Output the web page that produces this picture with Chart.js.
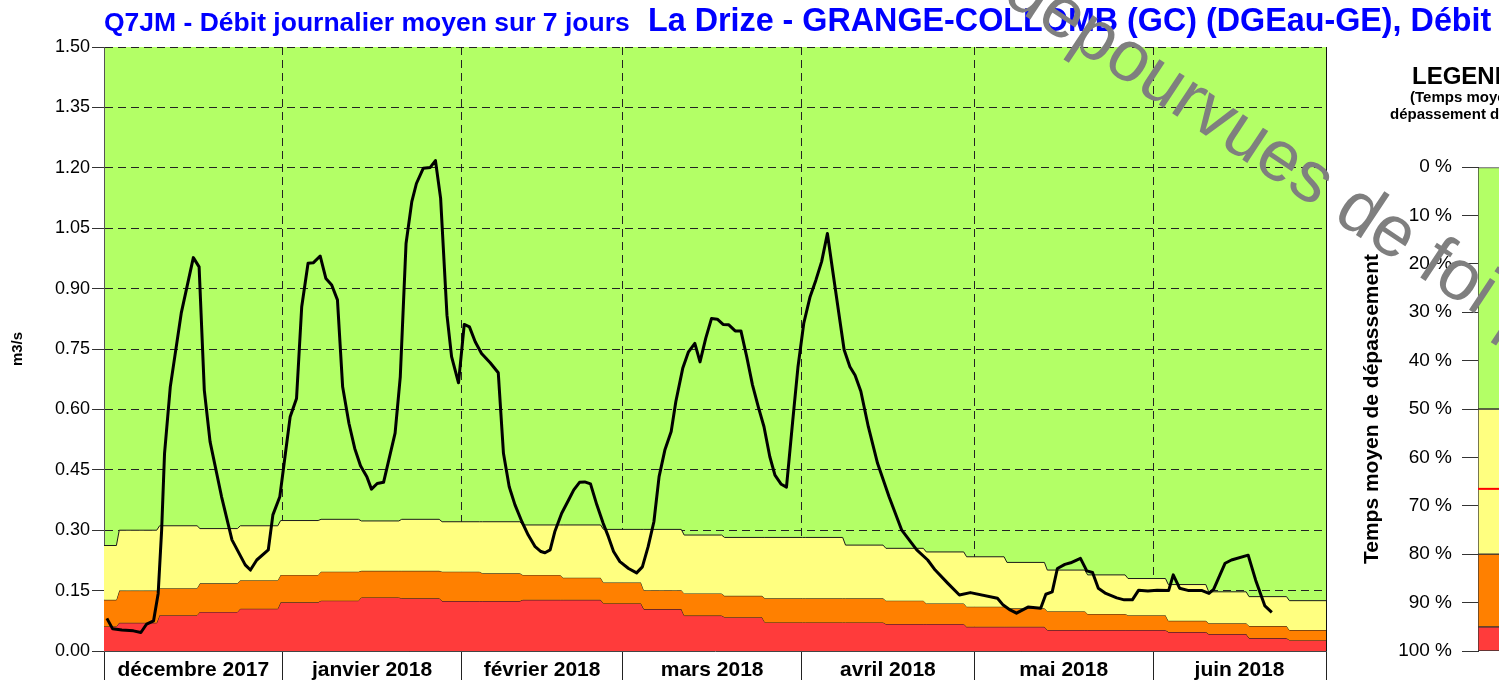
<!DOCTYPE html>
<html>
<head>
<meta charset="utf-8">
<script src="https://cdn.jsdelivr.net/npm/chart.js@4.4.1/dist/chart.umd.min.js"></script>
<style>
  html, body { margin: 0; padding: 0; background: #fff; overflow: hidden; }
  #cadre { position: relative; width: 1499px; height: 680px; }
  #cadre canvas { position: absolute; left: 0; top: 0; }
</style>
</head>
<body>
<div id="cadre">
  <canvas id="chartDebit" width="1499" height="680"></canvas>
  <canvas id="chartLegende" width="1499" height="680"></canvas>
</div>
<script>
// ------------- DONNEES
// axe X en jours depuis le 01.12.2017
const moisLabels = ['décembre 2017', 'janvier 2018', 'février 2018', 'mars 2018', 'avril 2018', 'mai 2018', 'juin 2018'];
const moisDebut = [0, 31, 62, 90, 121, 151, 182, 212];
const graduationsDebit = [0.00, 0.15, 0.30, 0.45, 0.60, 0.75, 0.90, 1.05, 1.20, 1.35, 1.50];

// Q7JM (m3/s)
const q7jmJours = [
  0.5, 1.5, 3.1, 5.1, 6.4, 7.4, 8.6, 9.4, 10.0, 10.5,
  11.5, 13.4, 15.5, 16.5, 17.4, 18.4, 20.4, 22.2, 24.5, 25.4,
  26.5, 28.5, 29.3, 30.5, 32.3, 33.4, 34.3, 35.4, 36.3, 37.5,
  38.5, 39.5, 40.5, 41.4, 42.5, 43.5, 44.5, 45.6, 46.4, 47.4,
  48.5, 50.5, 51.4, 52.4, 53.4, 54.2, 55.4, 56.6, 57.5, 58.4,
  59.5, 60.3, 61.5, 62.5, 63.4, 64.4, 65.5, 67.0, 68.4, 69.3,
  70.3, 71.3, 72.5, 73.6, 74.8, 75.8, 76.5, 77.4, 78.2, 79.4,
  80.6, 81.5, 82.5, 83.4, 84.4, 85.5, 86.6, 87.5, 88.4, 89.5,
  91.0, 92.4, 93.4, 94.4, 95.4, 96.3, 97.3, 98.4, 99.2, 100.4,
  101.4, 102.5, 103.4, 104.4, 105.4, 106.4, 107.4, 108.4, 109.5, 110.5,
  111.5, 112.5, 113.5, 114.5, 115.5, 116.4, 117.5, 118.4, 119.5, 120.4,
  121.4, 122.5, 123.5, 124.5, 125.5, 126.4, 127.4, 128.4, 129.4, 130.3,
  131.3, 132.6, 134.2, 136.2, 138.4, 141.0, 142.9, 144.2, 146.4, 148.4,
  150.3, 155.0, 156.0, 157.2, 158.3, 160.3, 162.5, 163.4, 164.5, 165.4,
  166.7, 167.7, 169.4, 170.5, 171.5, 172.5, 173.8, 175.7, 177.0, 178.4,
  179.5, 181.1, 182.7, 184.7, 185.5, 186.6, 188.2, 190.5, 191.7, 192.5,
  194.5, 195.6, 198.5, 199.8, 201.4, 202.6
];
const q7jmDebit = [
  0.081, 0.055, 0.052, 0.050, 0.046, 0.067, 0.075, 0.143, 0.300, 0.490,
  0.656, 0.839, 0.977, 0.954, 0.648, 0.520, 0.383, 0.276, 0.214, 0.201,
  0.226, 0.251, 0.338, 0.383, 0.582, 0.627, 0.855, 0.963, 0.964, 0.981,
  0.925, 0.909, 0.872, 0.656, 0.565, 0.503, 0.460, 0.433, 0.402, 0.416,
  0.419, 0.541, 0.681, 1.012, 1.116, 1.161, 1.199, 1.201, 1.218, 1.124,
  0.834, 0.731, 0.666, 0.811, 0.805, 0.768, 0.739, 0.716, 0.691, 0.491,
  0.408, 0.363, 0.321, 0.288, 0.259, 0.247, 0.244, 0.251, 0.296, 0.342,
  0.375, 0.400, 0.419, 0.420, 0.415, 0.363, 0.317, 0.284, 0.247, 0.222,
  0.205, 0.194, 0.209, 0.259, 0.321, 0.433, 0.499, 0.545, 0.619, 0.702,
  0.743, 0.764, 0.718, 0.777, 0.826, 0.824, 0.811, 0.810, 0.795, 0.795,
  0.731, 0.661, 0.607, 0.557, 0.483, 0.437, 0.414, 0.407, 0.574, 0.706,
  0.814, 0.880, 0.921, 0.967, 1.037, 0.946, 0.847, 0.748, 0.706, 0.685,
  0.645, 0.557, 0.466, 0.383, 0.300, 0.251, 0.226, 0.201, 0.168, 0.139,
  0.145, 0.131, 0.114, 0.102, 0.094, 0.109, 0.106, 0.141, 0.147, 0.205,
  0.215, 0.219, 0.230, 0.199, 0.195, 0.156, 0.143, 0.132, 0.127, 0.127,
  0.151, 0.149, 0.151, 0.150, 0.189, 0.156, 0.150, 0.150, 0.143, 0.153,
  0.218, 0.226, 0.238, 0.176, 0.112, 0.096
];

// Seuils hebdomadaires (débits dépassés 50 %, 80 % et 95 % du temps)
const semaineDebut = [0, 2.4, 9.4, 16.4, 23.4, 30.4, 37.4, 44.4, 51.4, 58.4, 65.4, 72.4, 79.4, 86.4, 93.4, 100.4,
  107.4, 114.4, 121.4, 128.4, 135.4, 142.4, 149.4, 156.4, 163.4, 170.4, 177.4, 184.4, 191.4, 198.4, 205.4];
const seuil50 = [0.262, 0.300, 0.311, 0.304, 0.311, 0.324, 0.327, 0.323, 0.327, 0.321, 0.321, 0.313, 0.313, 0.302, 0.302, 0.288,
  0.282, 0.282, 0.282, 0.263, 0.255, 0.246, 0.234, 0.220, 0.201, 0.189, 0.180, 0.165, 0.147, 0.135, 0.125];
const seuil80 = [0.127, 0.150, 0.156, 0.168, 0.176, 0.189, 0.197, 0.199, 0.199, 0.197, 0.193, 0.189, 0.182, 0.170, 0.151, 0.143,
  0.137, 0.131, 0.131, 0.131, 0.125, 0.118, 0.110, 0.106, 0.099, 0.092, 0.089, 0.075, 0.069, 0.062, 0.052];
const seuil95 = [0.061, 0.070, 0.089, 0.097, 0.105, 0.121, 0.125, 0.133, 0.131, 0.124, 0.124, 0.127, 0.127, 0.118, 0.104, 0.088,
  0.084, 0.071, 0.071, 0.071, 0.067, 0.067, 0.060, 0.060, 0.052, 0.052, 0.052, 0.047, 0.042, 0.032, 0.027];

// Légende (temps moyen de dépassement, %)
const graduationsPourcent = [0, 10, 20, 30, 40, 50, 60, 70, 80, 90, 100];
const legendeClasses = [50, 30, 15, 5];
const legendeMarque = 66.5;

// ------------- COULEURS / POLICE
const VERT = '#b3ff66';
const JAUNE = '#ffff80';
const ORANGE = '#ff8000';
const ROUGE = '#ff3b3b';
const BLEU = '#0000ff';
const POLICE = "'Liberation Sans', Arial, sans-serif";
Chart.defaults.font.family = POLICE;
Chart.defaults.color = '#000';

// points en escalier pour un seuil hebdomadaire
function construireSeuil(valeurs) {
  let pts = [];
  for (let i = 0; i < valeurs.length; i++) {
    let debut = i > 0 ? semaineDebut[i] + 0.25 : semaineDebut[i];
    let fin = i + 1 < semaineDebut.length ? semaineDebut[i + 1] - 0.25 : moisDebut[moisDebut.length - 1];
    pts.push({ x: debut, y: valeurs[i] });
    pts.push({ x: fin, y: valeurs[i] });
  }
  return pts;
}

// ticks X : limites de mois (traits) + milieux de mois (libellés)
const milieuxMois = moisLabels.map((m, i) => (moisDebut[i] + moisDebut[i + 1]) / 2);
const ticksX = moisDebut.concat(milieuxMois).sort((a, b) => a - b);
const estLimite = v => moisDebut.indexOf(v) >= 0;

// ---------- PLUGINS
const fondVert = {
  id: 'fondVert',
  beforeDraw(chart) {
    const a = chart.chartArea;
    chart.ctx.save();
    chart.ctx.fillStyle = VERT;
    chart.ctx.fillRect(a.left, a.top, a.right - a.left, a.bottom - a.top);
    chart.ctx.restore();
  }
};

const titresEtBord = {
  id: 'titresEtBord',
  afterDraw(chart) {
    const c = chart.ctx;
    const a = chart.chartArea;
    c.save();
    // bord droit plein
    c.strokeStyle = '#111';
    c.lineWidth = 1;
    c.beginPath();
    c.moveTo(a.right + 0.5, a.top);
    c.lineTo(a.right + 0.5, a.bottom);
    c.stroke();
    // titres
    c.fillStyle = BLEU;
    c.textBaseline = 'alphabetic';
    c.textAlign = 'left';
    c.font = 'bold 26.5px ' + POLICE;
    c.fillText('Q7JM - Débit journalier moyen sur 7 jours', 104, 31);
    c.font = 'bold 32.3px ' + POLICE;
    c.fillText('La Drize - GRANGE-COLLOMB (GC) (DGEau-GE), Débit', 648, 31);
    c.restore();
  }
};

const legendeTextes = {
  id: 'legendeTextes',
  afterDraw(chart) {
    const c = chart.ctx;
    c.save();
    c.fillStyle = '#000';
    c.textAlign = 'center';
    c.font = 'bold 24px ' + POLICE;
    c.fillText('LEGENDE', 1470, 84);
    c.textAlign = 'left';
    c.font = 'bold 15px ' + POLICE;
    c.fillText('(Temps moyen de', 1410, 102);
    c.fillText('dépassement du débit)', 1390, 119);
    c.restore();
  }
};

const marqueRouge = {
  id: 'marqueRouge',
  afterDatasetsDraw(chart) {
    const a = chart.chartArea;
    const y = chart.scales.y.getPixelForValue(legendeMarque);
    const c = chart.ctx;
    c.save();
    c.strokeStyle = '#ff0000';
    c.lineWidth = 2;
    c.beginPath();
    c.moveTo(a.left, y);
    c.lineTo(a.right, y);
    c.stroke();
    c.restore();
  }
};

const filigrane = {
  id: 'filigrane',
  afterDraw(chart) {
    const c = chart.ctx;
    c.save();
    c.translate(1001, 0);
    c.rotate(33.5 * Math.PI / 180);
    c.fillStyle = '#7f7f7f';
    c.font = '72px ' + POLICE;
    c.textAlign = 'left';
    c.textBaseline = 'alphabetic';
    c.fillText('dépourvues de foi publique', 0, 0);
    c.fillText('Données ', -c.measureText('Données ').width, 0);
    c.restore();
  }
};

// ---------- GRAPHIQUE DEBIT
const ctxDebit = document.getElementById('chartDebit').getContext('2d');
const chartDebit = new Chart(ctxDebit, {
  type: 'line',
  data: {
    datasets: [
      { label: 'Q95', data: construireSeuil(seuil95), fill: 'origin', backgroundColor: ROUGE, borderColor: '#1a1a1a', borderWidth: 1, pointRadius: 0, tension: 0, order: 3 },
      { label: 'Q80', data: construireSeuil(seuil80), fill: '-1', backgroundColor: ORANGE, borderColor: '#1a1a1a', borderWidth: 1, pointRadius: 0, tension: 0, order: 2 },
      { label: 'Q50', data: construireSeuil(seuil50), fill: '-1', backgroundColor: JAUNE, borderColor: '#1a1a1a', borderWidth: 1, pointRadius: 0, tension: 0, order: 1 },
      {
        label: 'Q7JM',
        data: q7jmJours.map((j, i) => ({ x: j, y: q7jmDebit[i] })),
        fill: false, borderColor: '#000', borderWidth: 3, pointRadius: 0, tension: 0,
        borderJoinStyle: 'round', order: 0
      }
    ]
  },
  options: {
    responsive: false,
    animation: false,
    layout: { padding: { top: 47, right: 173, left: 0, bottom: 0 } },
    plugins: { legend: { display: false }, tooltip: { enabled: false } },
    scales: {
      x: {
        type: 'linear', min: 0, max: 212, z: 1,
        afterBuildTicks: s => { s.ticks = ticksX.map(v => ({ value: v })); },
        afterFit: s => { s.height = 29; s.paddingLeft = 0; s.paddingRight = 0; },
        ticks: {
          autoSkip: false, maxRotation: 0, minRotation: 0, padding: -22,
          font: { size: 21, weight: 'bold' }, color: '#000',
          callback: v => { let i = milieuxMois.indexOf(v); return i >= 0 ? moisLabels[i] : ''; }
        },
        grid: {
          color: c => (c.tick && estLimite(c.tick.value)) ? '#222' : 'rgba(0,0,0,0)',
          tickColor: c => (c.tick && estLimite(c.tick.value)) ? '#222' : 'rgba(0,0,0,0)',
          tickLength: 29, tickBorderDash: [], lineWidth: 1
        },
        border: { dash: [8, 5], color: '#444' }
      },
      y: {
        min: 0, max: 1.5, z: 1,
        afterBuildTicks: s => { s.ticks = graduationsDebit.map(v => ({ value: v })); },
        afterFit: s => { s.width = 104; s.paddingTop = 0; s.paddingBottom = 0; },
        ticks: { callback: v => v.toFixed(2), font: { size: 18 }, color: '#000', padding: 2 },
        grid: { color: '#222', tickColor: '#333', tickLength: 12, tickBorderDash: [] },
        border: { dash: [8, 5], color: '#555' },
        title: { display: true, text: 'm3/s', font: { size: 15, weight: 'bold' }, color: '#000', padding: { top: 9, bottom: 0 } }
      }
    }
  },
  plugins: [fondVert, titresEtBord]
});

// ---------- LEGENDE (temps moyen de dépassement)
const couleursLegende = [VERT, JAUNE, ORANGE, ROUGE];
const ctxLegende = document.getElementById('chartLegende').getContext('2d');
const chartLegende = new Chart(ctxLegende, {
  type: 'bar',
  data: {
    labels: [''],
    datasets: legendeClasses.map((v, i) => ({
      data: [v],
      backgroundColor: couleursLegende[i],
      borderColor: '#333',
      borderWidth: { top: 1, bottom: 1, left: 1, right: 0 },
      borderSkipped: false,
      barPercentage: 1,
      categoryPercentage: 1
    }))
  },
  options: {
    responsive: false,
    animation: false,
    layout: { padding: { left: 1330, top: 167, right: 0, bottom: 29 } },
    plugins: { legend: { display: false }, tooltip: { enabled: false } },
    scales: {
      x: { stacked: true, display: false },
      y: {
        stacked: true, reverse: true, min: 0, max: 100,
        afterBuildTicks: s => { s.ticks = graduationsPourcent.map(v => ({ value: v })); },
        afterFit: s => { s.width = 148; s.paddingTop = 0; s.paddingBottom = 0; },
        ticks: { callback: v => v + ' %', font: { size: 19 }, color: '#000', padding: 10 },
        grid: { drawOnChartArea: false, tickLength: 16, tickColor: '#333', tickBorderDash: [] },
        border: { color: '#333' },
        title: { display: true, text: 'Temps moyen de dépassement', font: { size: 21, weight: 'bold' }, color: '#000', padding: { top: 30, bottom: 0 } }
      }
    }
  },
  plugins: [marqueRouge, legendeTextes, filigrane]
});
</script>
</body>
</html>
